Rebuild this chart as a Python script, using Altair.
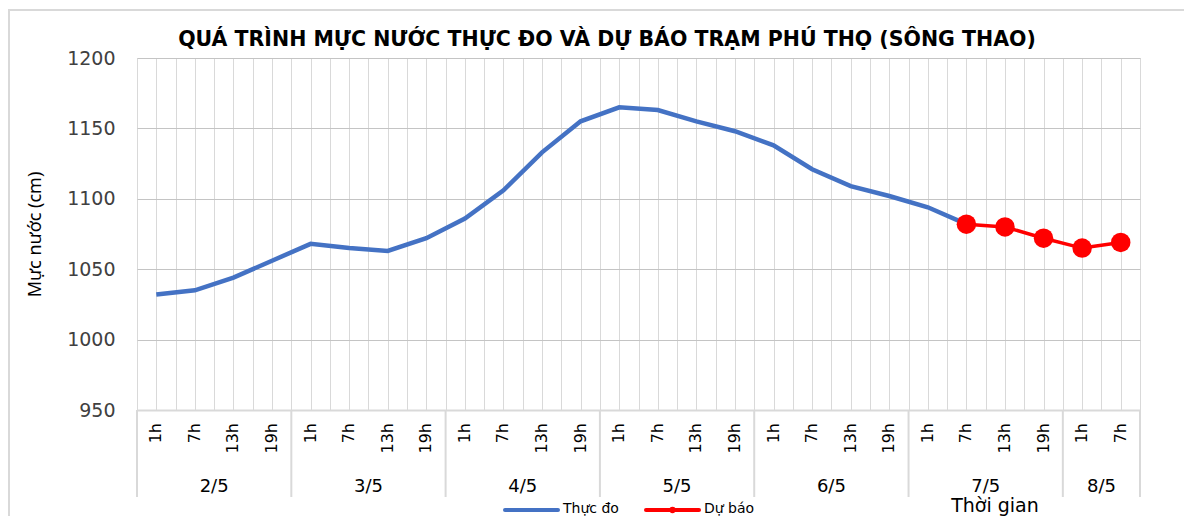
import altair as alt
import pandas as pd

# ---- data ----
title_text = "QUÁ TRÌNH MỰC NƯỚC THỰC ĐO VÀ DỰ BÁO TRẠM PHÚ THỌ (SÔNG THAO)"
hours = ["1h", "7h", "13h", "19h"]
days = ["2/5", "3/5", "4/5", "5/5", "6/5", "7/5", "8/5"]
hours_per_day = [4, 4, 4, 4, 4, 4, 2]
observed = [1032, 1035, 1044, 1056, 1068, 1065, 1063, 1072, 1086, 1106, 1133,
            1155, 1165, 1163, 1155, 1148, 1138, 1121, 1109, 1102, 1094, 1082]
forecast = [1082, 1080, 1072, 1065, 1069]
forecast_start = 21
y_ticks = [950, 1000, 1050, 1100, 1150, 1200]

FONT = "DejaVu Sans"
FONT2 = "Noto Sans"
BLUE = "#4472C4"
RED = "#FF0000"

# ---- derived tables ----
cat_hour, cat_day = [], []
for d, n in zip(days, hours_per_day):
    for h in hours[:n]:
        cat_hour.append(h)
        cat_day.append(d)
n_cat = len(cat_hour)

obs_df = pd.DataFrame({"x": [i + 0.5 for i in range(len(observed))], "value": observed})
fc_df = pd.DataFrame({"x": [forecast_start + j + 0.5 for j in range(len(forecast))], "value": forecast})
hour_df = pd.DataFrame({"x": [i + 0.5 for i in range(n_cat)], "label": cat_hour})
starts = [0]
for n in hours_per_day:
    starts.append(starts[-1] + n)
day_df = pd.DataFrame({"x": [(starts[k] + starts[k + 1]) / 2 for k in range(len(days))], "label": days})
sep_df = pd.DataFrame({"x": starts})
dummy = pd.DataFrame({"a": [0]})

W, H = 1003, 352
xs = alt.Scale(domain=[0, n_cat], nice=False, zero=False)
ys = alt.Scale(domain=[950, 1200], nice=False, zero=False)

x_axis = alt.Axis(values=[k * 0.5 for k in range(2 * n_cat + 1)], grid=True, gridColor="#d9d9d9",
                  gridWidth=1, labels=False, ticks=False, domain=True, domainColor="#d9d9d9",
                  domainWidth=2, title=None)
y_axis = alt.Axis(values=y_ticks, format="d", grid=True, gridColor="#c4c4c4", gridWidth=1, ticks=False,
                  domain=False, labelFontSize=19, labelColor="#404040", labelPadding=22,
                  labelFont=FONT, title="Mực nước (cm)", titleFontSize=18, titleFontWeight="normal",
                  titleColor="#000000", titleFont=FONT2, titlePadding=22)

X = alt.X("x:Q", scale=xs, axis=x_axis)
Y = alt.Y("value:Q", scale=ys, axis=y_axis)

border = alt.Chart(dummy).mark_rect(fill=None, stroke="#d9d9d9", strokeWidth=2).encode(
    x=alt.value(-128), x2=alt.value(W + 80), y=alt.value(-48), y2=alt.value(H + 200))

title_mark = alt.Chart(dummy).mark_text(align="center", baseline="alphabetic", fontSize=20.5,
                                        fontWeight="bold", font=FONT, color="#000000").encode(
    x=alt.value(470), y=alt.value(-12), text=alt.value(title_text))

obs_line = alt.Chart(obs_df).mark_line(color=BLUE, strokeWidth=4.5).encode(x=X, y=Y)
fc_line = alt.Chart(fc_df).mark_line(color=RED, strokeWidth=3.5).encode(x=X, y=Y)
fc_pts = alt.Chart(fc_df).mark_point(color=RED, filled=True, opacity=1, size=380, shape="circle").encode(x=X, y=Y)

hour_txt = alt.Chart(hour_df).mark_text(angle=270, align="right", baseline="middle",
                                        fontSize=16, font=FONT, color="#000000").encode(
    x=X, y=alt.value(365), text="label:N")
day_txt = alt.Chart(day_df).mark_text(align="center", baseline="alphabetic",
                                      fontSize=18, font=FONT, color="#000000").encode(
    x=X, y=alt.value(434), text="label:N")
seps = alt.Chart(sep_df).mark_rule(color="#d9d9d9", strokeWidth=2).encode(
    x=X, y=alt.value(H), y2=alt.value(439))

leg_blue = alt.Chart(dummy).mark_rule(color=BLUE, strokeWidth=4, strokeCap="round").encode(
    x=alt.value(368), x2=alt.value(421), y=alt.value(452))
leg_blue_t = alt.Chart(dummy).mark_text(align="left", baseline="middle", fontSize=14, font=FONT,
                                        color="#000000").encode(
    x=alt.value(426), y=alt.value(451), text=alt.value("Thực đo"))
leg_red = alt.Chart(dummy).mark_rule(color=RED, strokeWidth=4, strokeCap="round").encode(
    x=alt.value(509), x2=alt.value(562), y=alt.value(452))
leg_red_p = alt.Chart(dummy).mark_point(color=RED, filled=True, opacity=1, size=40).encode(
    x=alt.value(535.5), y=alt.value(452))
leg_red_t = alt.Chart(dummy).mark_text(align="left", baseline="middle", fontSize=14, font=FONT,
                                       color="#000000").encode(
    x=alt.value(567), y=alt.value(451), text=alt.value("Dự báo"))
x_title = alt.Chart(dummy).mark_text(align="center", baseline="alphabetic", fontSize=19, font=FONT,
                                     color="#000000").encode(
    x=alt.value(858), y=alt.value(454), text=alt.value("Thời gian"))

chart = alt.layer(
    border, title_mark, seps, obs_line, fc_line, fc_pts, hour_txt, day_txt,
    leg_blue, leg_blue_t, leg_red, leg_red_p, leg_red_t, x_title,
).properties(
    width=W, height=H,
    autosize=alt.AutoSizeParams(type="none"),
    padding={"left": 129, "top": 50, "right": 44, "bottom": 106},
).configure_view(stroke=None).configure(background="white")

chart.save("out.html", embed_options={"renderer": "svg", "actions": False})
